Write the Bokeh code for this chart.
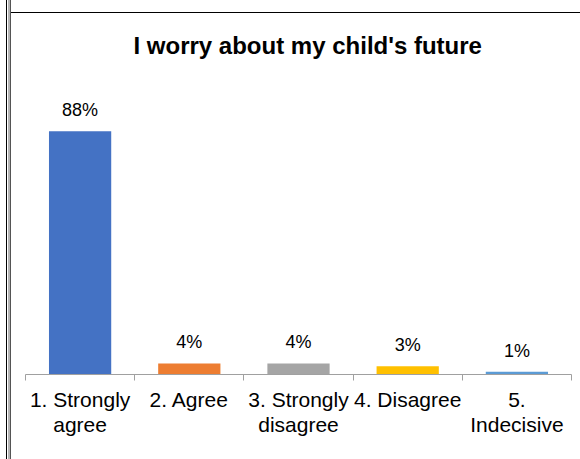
from bokeh.plotting import figure
from bokeh.models import ColumnDataSource, LabelSet, Range1d, FixedTicker, InlineStyleSheet
from bokeh.core.properties import value
from bokeh.embed import file_html
from bokeh.resources import INLINE

# ---- data ----
categories = ["1. Strongly\nagree", "2. Agree", "3. Strongly\ndisagree", "4. Disagree", "5.\nIndecisive"]
values = [0.88, 0.04, 0.04, 0.03, 0.01]
labels = ["88%", "4%", "4%", "3%", "1%"]
colors = ["#4472C4", "#ED7D31", "#A5A5A5", "#FFC000", "#5B9BD5"]
title_text = "I worry about my child's future"

FONT = "Liberation Sans"
AXIS_GRAY = "#a0a0a0"

centers = [i + 0.5 for i in range(len(categories))]
bounds = [float(i) for i in range(len(categories) + 1)]

src = ColumnDataSource(dict(x=centers, top=values, label=labels, color=colors))

# thin window-frame lines seen at the left/top edge of the original screenshot
frame_css = InlineStyleSheet(css="""
:host::after {
  content: "";
  position: absolute;
  left: 0; top: 0; width: 580px; height: 459px;
  pointer-events: none;
  z-index: 10;
  background:
    linear-gradient(#000, #000) 6px 0 / 1px 100% no-repeat,
    linear-gradient(to right, #b4b4b4 0 2px, #555 2px 3px) 8px 0 / 3px 100% no-repeat,
    linear-gradient(#000, #000) 11px 12px / 569px 1px no-repeat;
}
""")

p = figure(width=580, height=459,
           x_range=Range1d(0, len(categories)), y_range=Range1d(0, 1.10),
           output_backend="svg", toolbar_location=None,
           min_border_left=25, min_border_right=9,
           min_border_top=70, min_border_bottom=85,
           y_axis_location=None, title=title_text)
p.stylesheets.append(frame_css)

p.vbar(x="x", top="top", width=0.57, fill_color="color", line_color=None, source=src)

p.add_layout(LabelSet(x="x", y="top", text="label", source=src, y_offset=15,
                      text_align="center", text_baseline="alphabetic",
                      text_font_size="18px", text_font=value(FONT), text_color="#000000"))

ax = p.xaxis[0]
ax.ticker = FixedTicker(ticks=centers, minor_ticks=bounds)
ax.major_label_overrides = {c: lab for c, lab in zip(centers, categories)}
ax.major_tick_in = 0
ax.major_tick_out = 0
ax.minor_tick_in = 0
ax.minor_tick_out = 6
ax.minor_tick_line_color = AXIS_GRAY
ax.axis_line_color = AXIS_GRAY
ax.major_label_text_font = FONT
ax.major_label_text_font_size = "21px"
ax.major_label_text_line_height = 1.13
ax.major_label_text_color = "#000000"
ax.major_label_standoff = 7

p.xgrid.visible = False
p.ygrid.visible = False
p.outline_line_color = None
p.background_fill_color = "white"
p.border_fill_color = "white"

p.title.text_font = FONT
p.title.text_font_size = "24px"
p.title.text_font_style = "bold"
p.title.text_color = "#000000"
p.title.align = "left"
p.title.offset = 108
p.title.standoff = 24

open("out.html", "w").write(file_html(p, INLINE))
